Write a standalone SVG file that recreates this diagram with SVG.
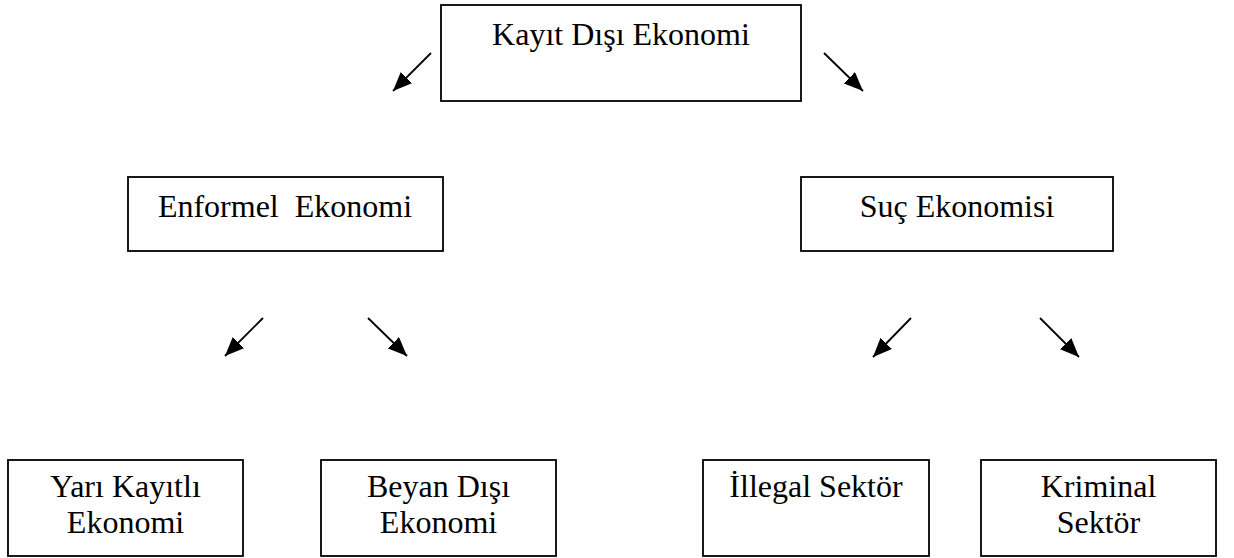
<svg xmlns="http://www.w3.org/2000/svg" width="1234" height="558" viewBox="0 0 1234 558">
<style>
.box{fill:#fff;stroke:#000;stroke-width:1.8}
.t{font-family:"Liberation Serif","Times New Roman",serif;font-size:32px;fill:#000;text-anchor:middle}
.c{stroke:#000;stroke-width:1.8;fill:none;marker-end:url(#ah)}
</style>
<defs>
<marker id="ah" markerUnits="userSpaceOnUse" markerWidth="19" markerHeight="16" refX="19" refY="8" orient="auto">
<path d="M0,0 L19,8 L0,16 z" fill="#000"/>
</marker>
</defs>
<rect width="1234" height="558" fill="#fff"/>
<g id="connectors">
<line class="c" x1="431" y1="53" x2="393" y2="91"/>
<line class="c" x1="824" y1="53" x2="863" y2="91"/>
<line class="c" x1="263" y1="318" x2="225" y2="356"/>
<line class="c" x1="368" y1="318" x2="407" y2="356"/>
<line class="c" x1="911" y1="318" x2="873" y2="357"/>
<line class="c" x1="1040" y1="318" x2="1079" y2="357"/>
</g>
<g id="kayit-disi">
<rect class="box" x="441" y="5" width="360" height="96"/>
<text class="t" x="621" y="45">Kayıt Dışı Ekonomi</text>
</g>
<g id="enformel">
<rect class="box" x="128" y="177" width="315" height="74"/>
<text class="t" x="285" y="217" xml:space="preserve">Enformel  Ekonomi</text>
</g>
<g id="suc">
<rect class="box" x="801" y="177" width="312" height="74"/>
<text class="t" x="957" y="217">Suç Ekonomisi</text>
</g>
<g id="yari-kayitli">
<rect class="box" x="8" y="460" width="235" height="96"/>
<text class="t" x="125.5" y="497">Yarı Kayıtlı</text>
<text class="t" x="125.5" y="533">Ekonomi</text>
</g>
<g id="beyan-disi">
<rect class="box" x="321" y="460" width="235" height="96"/>
<text class="t" x="438.5" y="497">Beyan Dışı</text>
<text class="t" x="438.5" y="533">Ekonomi</text>
</g>
<g id="illegal">
<rect class="box" x="703" y="460" width="226" height="96"/>
<text class="t" x="816" y="497">İllegal Sektör</text>
</g>
<g id="kriminal">
<rect class="box" x="981" y="460" width="235" height="96"/>
<text class="t" x="1098.5" y="497">Kriminal</text>
<text class="t" x="1098.5" y="533">Sektör</text>
</g>
</svg>
